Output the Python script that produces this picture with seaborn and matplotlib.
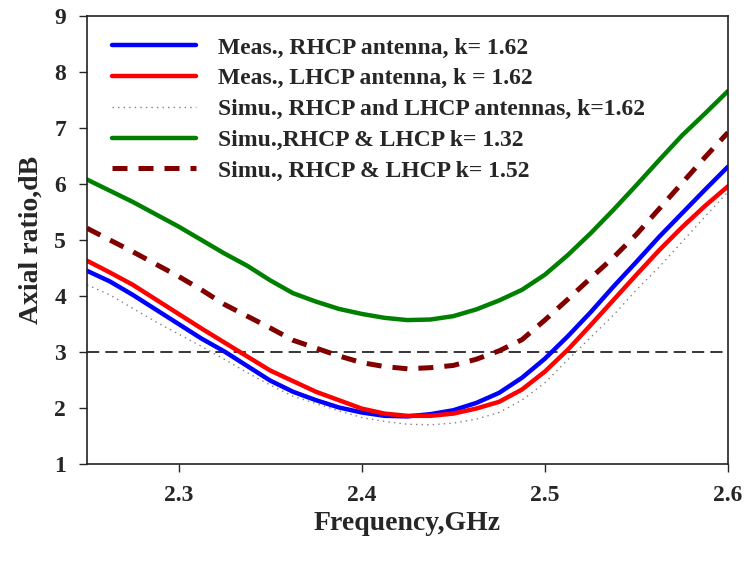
import matplotlib
matplotlib.use("Agg")
import matplotlib.pyplot as plt
import seaborn as sns
import pandas as pd

freq = [2.25, 2.2625, 2.275, 2.2875, 2.3, 2.3125, 2.325, 2.3375, 2.35, 2.3625,
        2.375, 2.3875, 2.4, 2.4125, 2.425, 2.4375, 2.45, 2.4625, 2.475, 2.4875,
        2.5, 2.5125, 2.525, 2.5375, 2.55, 2.5625, 2.575, 2.5875, 2.6]
meas_rhcp = [4.45, 4.26, 4.02, 3.76, 3.50, 3.24, 3.01, 2.75, 2.49, 2.29,
             2.14, 2.01, 1.92, 1.86, 1.85, 1.89, 1.96, 2.09, 2.27, 2.54,
             2.88, 3.28, 3.71, 4.17, 4.61, 5.06, 5.48, 5.90, 6.31]
meas_lhcp = [4.63, 4.42, 4.20, 3.94, 3.68, 3.42, 3.17, 2.92, 2.67, 2.48,
             2.29, 2.14, 1.99, 1.90, 1.86, 1.86, 1.90, 1.99, 2.11, 2.33,
             2.65, 3.04, 3.48, 3.93, 4.38, 4.82, 5.23, 5.61, 5.96]
simu_162 = [4.20, 4.02, 3.78, 3.54, 3.32, 3.10, 2.87, 2.63, 2.41, 2.21,
            2.08, 1.95, 1.83, 1.76, 1.71, 1.70, 1.73, 1.80, 1.92, 2.14,
            2.45, 2.86, 3.26, 3.66, 4.11, 4.52, 4.97, 5.42, 5.86]
simu_132 = [6.08, 5.88, 5.68, 5.46, 5.24, 5.00, 4.76, 4.54, 4.28, 4.05,
            3.90, 3.77, 3.68, 3.61, 3.57, 3.58, 3.64, 3.76, 3.92, 4.11,
            4.38, 4.73, 5.12, 5.54, 5.98, 6.43, 6.87, 7.26, 7.66]
simu_152 = [5.21, 5.00, 4.79, 4.57, 4.35, 4.11, 3.85, 3.64, 3.43, 3.21,
            3.07, 2.93, 2.81, 2.74, 2.70, 2.72, 2.76, 2.87, 3.02, 3.22,
            3.57, 3.94, 4.32, 4.69, 5.10, 5.56, 6.02, 6.48, 6.92]

labels = ["Meas., RHCP antenna, k= 1.62",
          "Meas., LHCP antenna, k = 1.62",
          "Simu., RHCP and LHCP antennas, k=1.62",
          "Simu.,RHCP & LHCP k= 1.32",
          "Simu., RHCP & LHCP k= 1.52"]
series = [meas_rhcp, meas_lhcp, simu_162, simu_132, simu_152]
threshold = 3
x_ticks = [2.3, 2.4, 2.5, 2.6]
x_ticklabels = ["2.3", "2.4", "2.5", "2.6"]
y_ticks = [1, 2, 3, 4, 5, 6, 7, 8, 9]

sns.set_theme(style="white")
plt.rcParams['font.family'] = ['Liberation Serif', 'DejaVu Serif']
plt.rcParams['font.weight'] = 'bold'

fig = plt.figure(figsize=(7.45, 5.62), dpi=100)
ax = fig.add_axes([87/745, 1-464/562, 641/745, 448/562])

styles = [
    dict(color="#0000ff", lw=3.2, ls="-"),
    dict(color="#ff0000", lw=3.2, ls="-"),
    dict(color="#808080", lw=1.0, ls=(0, (1, 3))),
    dict(color="#008000", lw=3.2, ls="-"),
    dict(color="#800000", lw=3.6, ls=(0, (3, 2.2))),
]

for lab, ys, st in zip(labels, series, styles):
    df = pd.DataFrame({"f": freq, "ar": ys})
    sns.lineplot(data=df, x="f", y="ar", ax=ax, label=lab,
                 color=st["color"], linewidth=st["lw"], linestyle=st["ls"])

ax.axhline(threshold, color="black", lw=1.1, ls=(0, (8, 4)), zorder=1)

ax.set_xlim(2.25, 2.6)
ax.set_ylim(1, 9)
ax.set_xticks(x_ticks)
ax.set_xticklabels(x_ticklabels)
ax.set_yticks(y_ticks)
ax.set_xlabel("Frequency,GHz", fontsize=20, fontweight="bold", labelpad=4)
ax.set_ylabel("Axial ratio,dB", fontsize=20, fontweight="bold", labelpad=8)
ax.tick_params(axis="both", which="both", direction="out", length=6, width=1,
               labelsize=17, bottom=True, left=True, top=False, right=False, pad=9)
for lbl in ax.get_xticklabels() + ax.get_yticklabels():
    lbl.set_fontweight("bold")
for s in ax.spines.values():
    s.set_visible(True)
    s.set_color("#222222")
    s.set_linewidth(1.2)

leg = ax.legend(loc="upper left", bbox_to_anchor=(0.0385, 0.953), frameon=False,
                fontsize=17, handlelength=3.56, handletextpad=0.93, labelspacing=0.39,
                borderpad=0, borderaxespad=0)
for t in leg.get_texts():
    t.set_fontweight("bold")

fig.savefig("out.png", dpi=100)
